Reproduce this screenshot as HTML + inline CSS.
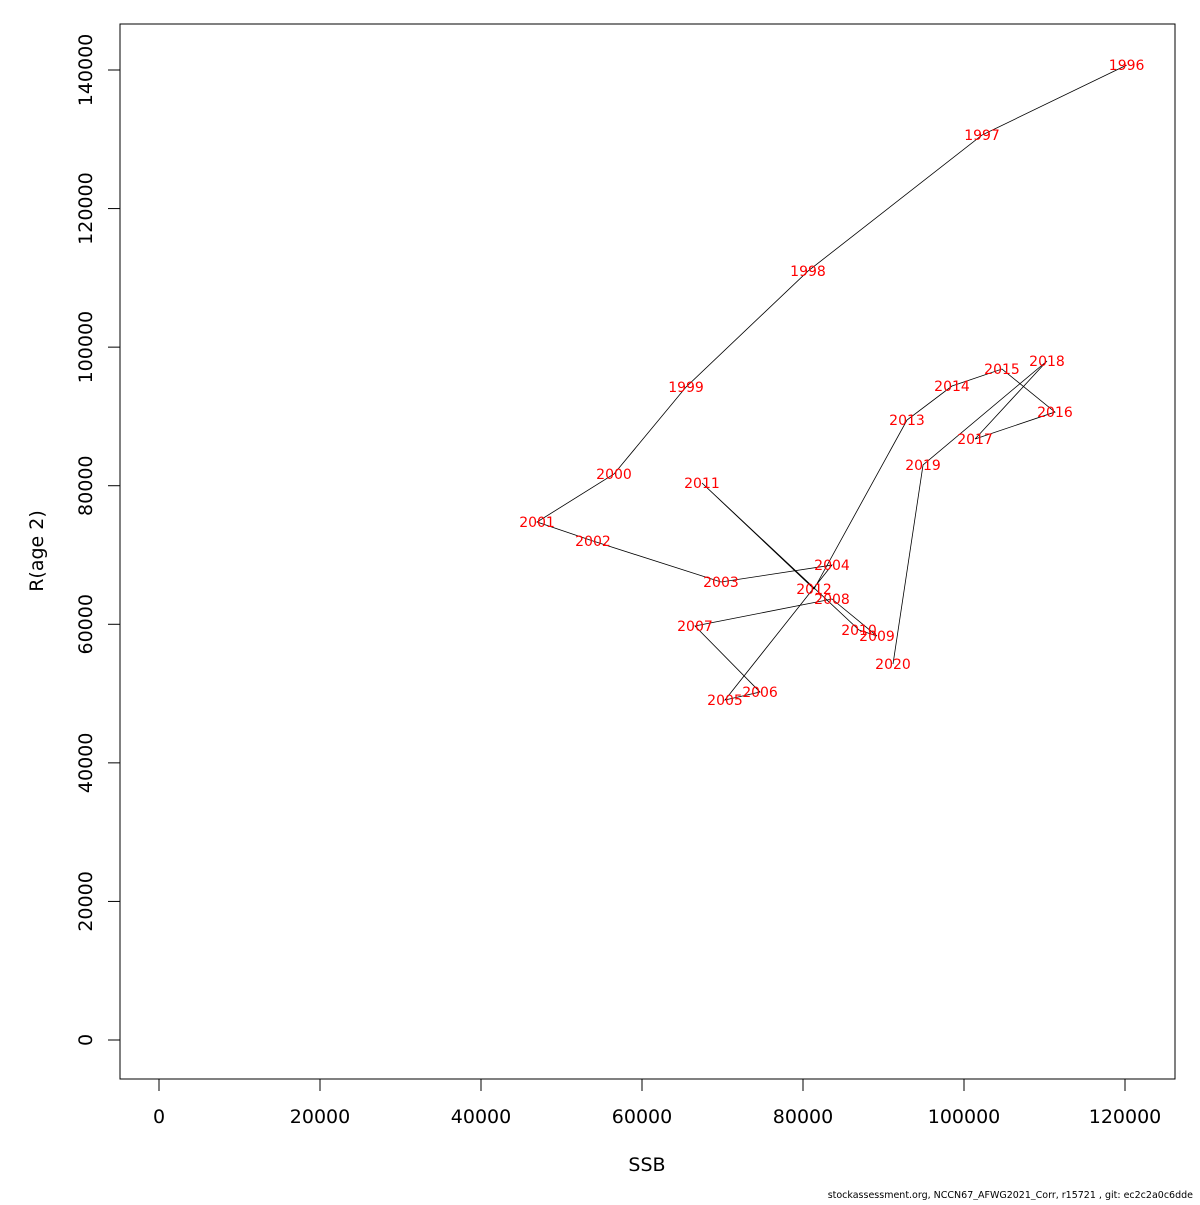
<!DOCTYPE html>
<html><head><meta charset="utf-8"><style>
body{margin:0;background:#fff}
svg text{font-family:"DejaVu Sans","Liberation Sans",sans-serif}
</style></head><body>
<svg id="chart" width="1200" height="1200" xmlns="http://www.w3.org/2000/svg"></svg>
<script>
const years=[1996,1997,1998,1999,2000,2001,2002,2003,2004,2005,2006,2007,2008,2009,2010,2011,2012,2013,2014,2015,2016,2017,2018,2019,2020];
const ssb=[120200,102240,80620,65470,56520,46960,53910,69810,83600,70310,74660,66580,83600,89190,86960,67450,81370,92920,98510,104720,111300,101370,110310,94910,91180];
const rec=[140710,130610,110980,94240,81690,74760,72020,66100,68550,49070,50220,59750,63650,58310,59170,80390,65090,89480,94390,96840,90630,86740,98000,82990,54260];
const xTicks=[0,20000,40000,60000,80000,100000,120000];
const yTicks=[0,20000,40000,60000,80000,100000,120000,140000];
const NS="http://www.w3.org/2000/svg";
const svg=document.getElementById('chart');
const X=v=>159+v*966/120000;
const Y=v=>1040-v*970/140000;
function mk(t,a,txt){const e=document.createElementNS(NS,t);for(const k in a)e.setAttribute(k,a[k]);if(txt!==undefined)e.textContent=txt;svg.appendChild(e);return e;}
let box=mk('rect',{x:120,y:24,width:1055,height:1055,fill:'none',stroke:'#000','stroke-width':1});


xTicks.forEach(t=>{
  let l=mk('line',{x1:X(t),x2:X(t),y1:1079,y2:1091,stroke:'#000'});
  
  
  let tx=mk('text',{x:X(t),y:1123,'text-anchor':'middle','font-size':19},t);
  
  
});
yTicks.forEach(t=>{
  let l=mk('line',{x1:108,x2:120,y1:Y(t),y2:Y(t),stroke:'#000'});
  
  
  let tx=mk('text',{x:92,y:Y(t),'text-anchor':'middle','font-size':19,transform:`rotate(-90 92 ${Y(t)})`},t);
  
  
});
let xt=mk('text',{x:647,y:1171,'text-anchor':'middle','font-size':19},'SSB');


let yt=mk('text',{x:43,y:551,'text-anchor':'middle','font-size':19,transform:'rotate(-90 43 551)'},'R(age 2)');


let pl=mk('polyline',{points:ssb.map((s,i)=>X(s)+','+Y(rec[i])).join(' '),fill:'none',stroke:'#000','stroke-width':0.8});


years.forEach((yr,i)=>{
  let t=mk('text',{x:X(ssb[i]),y:Y(rec[i])+5,'text-anchor':'middle','font-size':14,fill:'#ff0000'},yr);
  
  
});
let ft=mk('text',{x:1193,y:1198,'text-anchor':'end','font-size':9.5},'stockassessment.org, NCCN67_AFWG2021_Corr, r15721 , git: ec2c2a0c6dde');


</script>
</body></html>
